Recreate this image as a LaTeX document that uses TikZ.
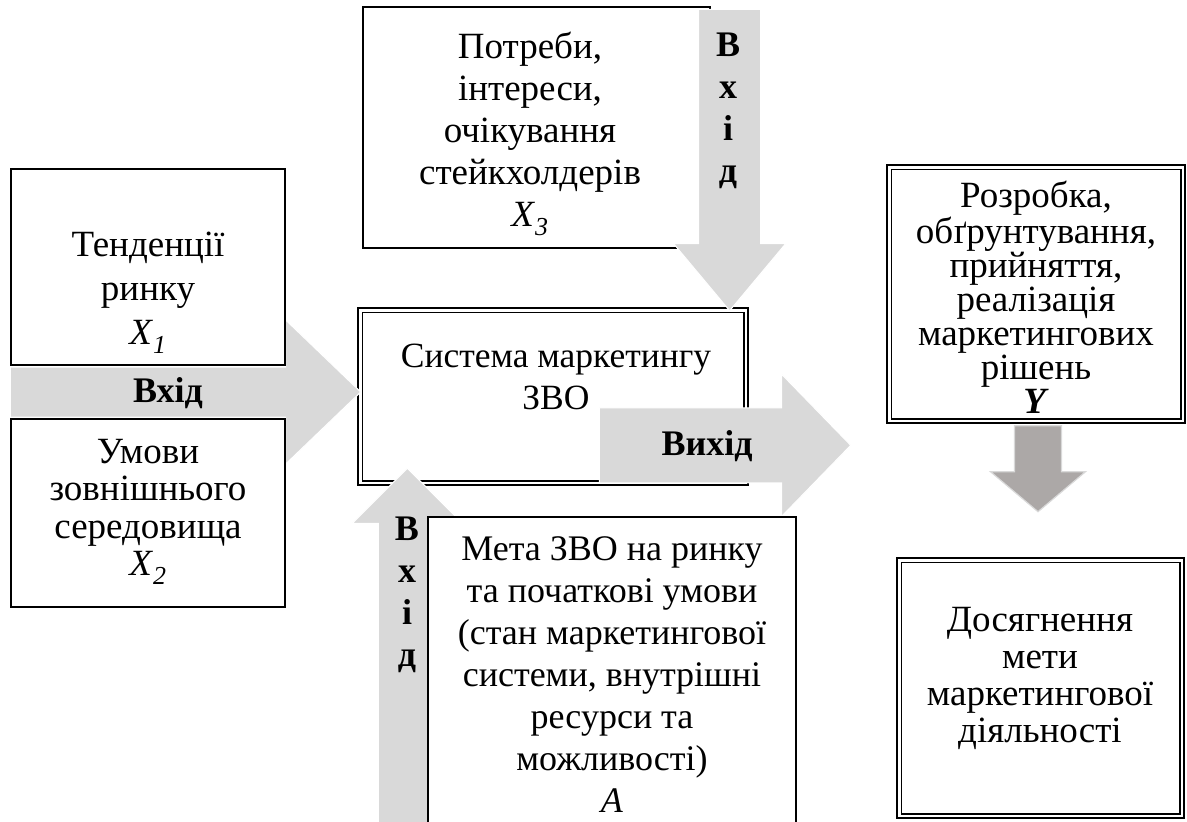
\documentclass[tikz,border=0pt]{standalone}
\usepackage{fontspec}
\setmainfont{Liberation Serif}
\usetikzlibrary{calc}

\definecolor{arrowlight}{RGB}{217,217,217}
\definecolor{arrowdark}{RGB}{172,168,167}

\pgfdeclarelayer{boxesbelow}
\pgfdeclarelayer{arrows}
\pgfsetlayers{boxesbelow,arrows,main}

% Block arrow: style, tail, tip, shaft half-width, head half-width, head length
\newcommand\blockarrow[6]{%
  \coordinate (ba-h) at ($(#3)!#6!(#2)$);
  \path[#1] ($(#2)!#4!90:(#3)$) -- ($(ba-h)!#4!90:(#3)$) -- ($(ba-h)!#5!90:(#3)$)
    -- (#3) -- ($(ba-h)!#5!-90:(#3)$) -- ($(ba-h)!#4!-90:(#3)$)
    -- ($(#2)!#4!-90:(#3)$) -- cycle;}

\tikzset{
  plainbox/.style={draw, line width=1.3pt, fill=white, inner sep=0pt},
  dblbox/.style={draw, line width=2.6pt, fill=white, inner sep=0pt,
    path picture={\draw[line width=1.4pt]
      ([shift={(4.2pt,-4.2pt)}]path picture bounding box.north west) rectangle
      ([shift={(-4.2pt,4.2pt)}]path picture bounding box.south east);}},
  txt/.style={font=\fontsize{37pt}{#1}\selectfont, align=center, inner sep=0pt, anchor=north},
  txt/.default=42pt,
  lbl/.style={font=\fontsize{36pt}{40pt}\selectfont\bfseries, inner sep=0pt, anchor=base},
  vlbl/.style={font=\fontsize{36pt}{42pt}\selectfont\bfseries, align=center, inner sep=0pt, anchor=north},
  lightarrow/.style={fill=arrowlight, draw=white, line width=1pt},
  darkarrow/.style={fill=arrowdark, draw=arrowlight, line width=1.2pt},
}

\begin{document}
\begin{tikzpicture}[x=1pt, y=-1pt]
\useasboundingbox (0,0) rectangle (1187,822);

% boxes lying under the arrows
\begin{pgfonlayer}{boxesbelow}
  \node[dblbox, minimum width=390pt, minimum height=177pt] (sys) at (553,396.5) {};
  \node[txt, font=\fontsize{35.5pt}{42pt}\selectfont] (tsys) at (556,344) {Система маркетингу\\ЗВО};
  \node[plainbox, minimum width=347pt, minimum height=241pt] (x3) at (536.5,127.5) {};
  \node[txt] (tx3) at (530,32) {Потреби,\\інтереси,\\очікування\\стейкхолдерів\\\textit{X}\textsubscript{\textit{3}}};
\end{pgfonlayer}

% boxes lying over the arrows
\node[plainbox, minimum width=274pt, minimum height=196pt] (x1) at (148,267) {};
\node[txt=44pt] (tx1) at (148,232) {Тенденції\\ринку\\\textit{X}\textsubscript{\textit{1}}};
\node[plainbox, minimum width=274pt, minimum height=188pt] (x2) at (148,513) {};
\node[txt=37.5pt] (tx2) at (148,439) {Умови\\зовнішнього\\середовища\\\textit{X}\textsubscript{\textit{2}}};
\node[plainbox, minimum width=368pt, minimum height=323pt] (meta) at (612,678.5) {};
\node[txt, font=\fontsize{36pt}{42pt}\selectfont] (tmeta) at (612,536) {Мета ЗВО на ринку\\та початкові умови\\(стан маркетингової\\системи, внутрішні\\ресурси та\\можливості)\\\textit{A}};
\node[dblbox, minimum width=298pt, minimum height=258pt] (ybox) at (1036,294) {};
\node[txt=34pt] (ty) at (1036,181) {Розробка,\\обґрунтування,\\прийняття,\\реалізація\\маркетингових\\рішень\\\textbf{\textit{Y}}};
\node[dblbox, minimum width=287pt, minimum height=260pt] (dos) at (1040.5,688) {};
\node[txt=37pt] (tdos) at (1040,607) {Досягнення\\мети\\маркетингової\\діяльності};

% block arrows
\begin{pgfonlayer}{arrows}
  \coordinate (inL) at ($(x1.south west)!0.5!(x2.north west)$);
  \coordinate (inLtip) at ($(sys.west |- inL)+(4,0)$);
  \blockarrow{lightarrow}{inL}{inLtip}{25pt}{72pt}{75pt}

  \coordinate (inT) at ($(x3.north east)+(19,3)$);
  \coordinate (inTtip) at ($(sys.north -| inT)+(0,4)$);
  \blockarrow{lightarrow}{inT}{inTtip}{31pt}{56pt}{67pt}

  \coordinate (inB) at ($(meta.south west)+(-20,0)$);
  \coordinate (inBtip) at ($(sys.south -| inB)+(0,-18)$);
  \blockarrow{lightarrow}{inB}{inBtip}{29pt}{55pt}{55pt}

  \coordinate (out) at ($(sys.south east)+(-150,-41)$);
  \coordinate (outtip) at ($(ybox.west |- out)+(-35,0)$);
  \blockarrow{lightarrow}{out}{outtip}{37.5pt}{71pt}{69pt}

  \coordinate (res) at ($(ybox.south)+(2,1.5)$);
  \coordinate (restip) at ($(dos.north)+(-2.5,-45)$);
  \blockarrow{darkarrow}{res}{restip}{23.5pt}{47.5pt}{40pt}
\end{pgfonlayer}

% arrow labels
\node[lbl] (lin) at (168,402) {Вхід};
\node[lbl] (lout) at (707,455) {Вихід};
\node[vlbl] (vtop) at (728,33) {В\\х\\і\\д};
\node[vlbl] (vbot) at (407,517) {В\\х\\і\\д};
\end{tikzpicture}
\end{document}
